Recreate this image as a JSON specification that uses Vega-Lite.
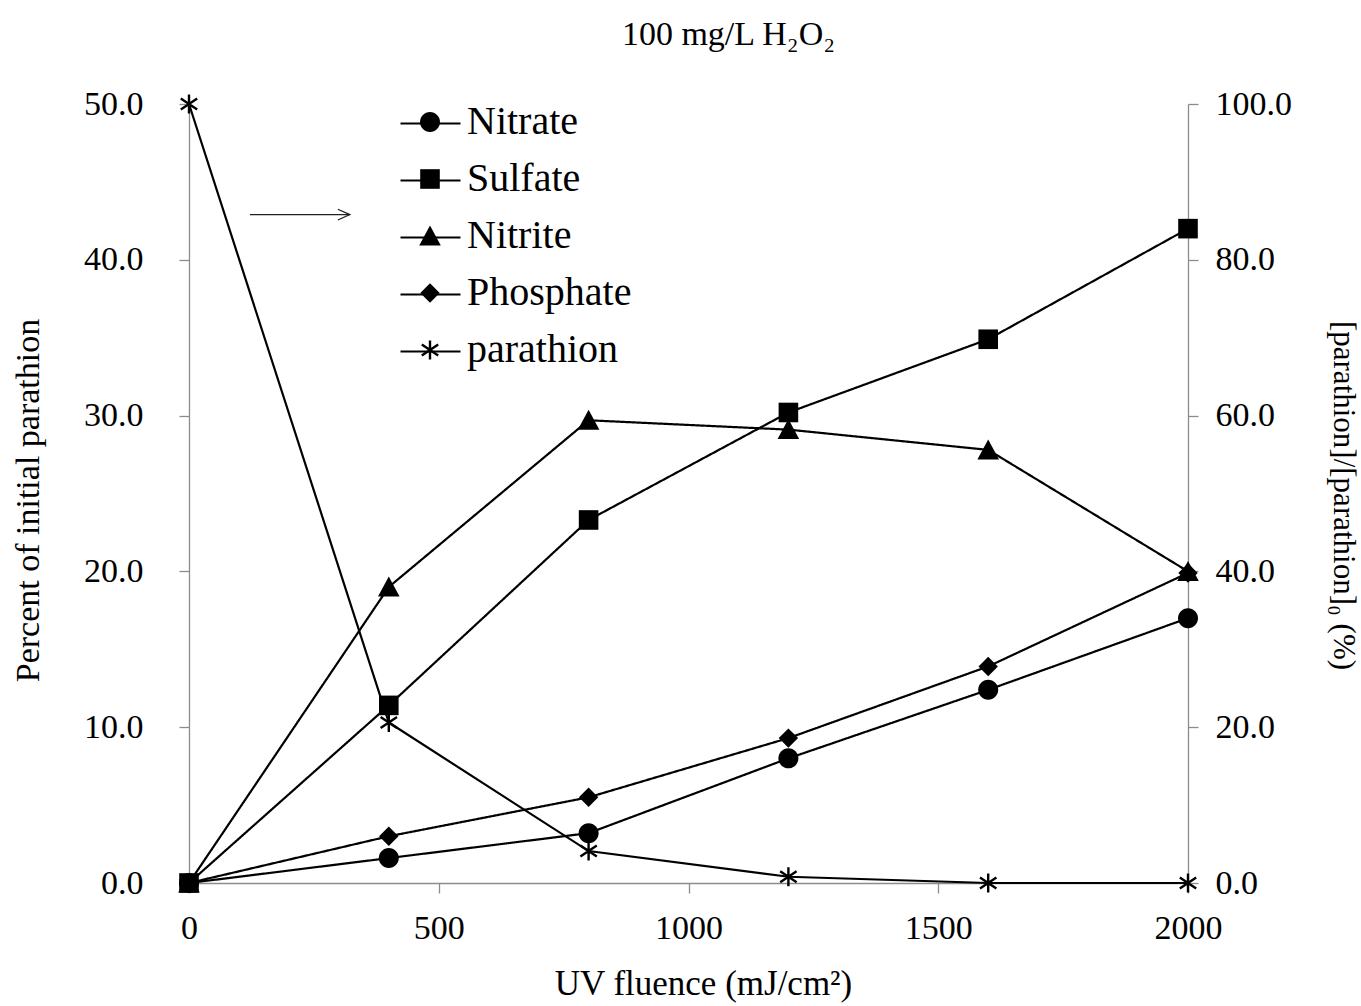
{
  "$schema": "https://vega.github.io/schema/vega-lite/v6.json",
  "width": 999,
  "height": 779,
  "autosize": {"type": "none"},
  "padding": {"left": 189, "top": 104, "right": 173, "bottom": 123},
  "background": "white",
  "config": {
    "font": "Liberation Serif",
    "view": {"stroke": null},
    "axis": {
      "grid": false,
      "domainColor": "#8c8c8c",
      "domainWidth": 1.3,
      "tickColor": "#8c8c8c",
      "tickWidth": 1.3,
      "tickSize": 10,
      "labelColor": "black",
      "titleColor": "black",
      "labelFont": "Liberation Serif",
      "titleFont": "Liberation Serif",
      "titleFontWeight": "normal",
      "labelFlush": false,
      "labelOverlap": false
    },
    "legend": {
      "labelFont": "Liberation Serif",
      "labelColor": "black",
      "labelLimit": 0
    }
  },
  "title": {
    "text": "100 mg/L H₂O₂",
    "font": "Liberation Serif",
    "fontSize": 34,
    "fontWeight": "normal",
    "color": "black",
    "anchor": "middle",
    "offset": 35,
    "dx": 40
  },
  "datasets": {
    "measurements": [
      {"fluence": 0, "series": "Nitrate", "percent": 0},
      {"fluence": 400, "series": "Nitrate", "percent": 1.6},
      {"fluence": 800, "series": "Nitrate", "percent": 3.2},
      {"fluence": 1200, "series": "Nitrate", "percent": 8.0},
      {"fluence": 1600, "series": "Nitrate", "percent": 12.4},
      {"fluence": 2000, "series": "Nitrate", "percent": 17.0},
      {"fluence": 0, "series": "Sulfate", "percent": 0},
      {"fluence": 400, "series": "Sulfate", "percent": 11.4},
      {"fluence": 800, "series": "Sulfate", "percent": 23.3},
      {"fluence": 1200, "series": "Sulfate", "percent": 30.2},
      {"fluence": 1600, "series": "Sulfate", "percent": 34.9},
      {"fluence": 2000, "series": "Sulfate", "percent": 42.0},
      {"fluence": 0, "series": "Nitrite", "percent": 0},
      {"fluence": 400, "series": "Nitrite", "percent": 19.0},
      {"fluence": 800, "series": "Nitrite", "percent": 29.7},
      {"fluence": 1200, "series": "Nitrite", "percent": 29.1},
      {"fluence": 1600, "series": "Nitrite", "percent": 27.8},
      {"fluence": 2000, "series": "Nitrite", "percent": 20.0},
      {"fluence": 0, "series": "Phosphate", "percent": 0},
      {"fluence": 400, "series": "Phosphate", "percent": 3.0},
      {"fluence": 800, "series": "Phosphate", "percent": 5.5},
      {"fluence": 1200, "series": "Phosphate", "percent": 9.3},
      {"fluence": 1600, "series": "Phosphate", "percent": 13.9},
      {"fluence": 2000, "series": "Phosphate", "percent": 19.9},
      {"fluence": 0, "series": "parathion", "percent": 100},
      {"fluence": 400, "series": "parathion", "percent": 20.6},
      {"fluence": 800, "series": "parathion", "percent": 4.1},
      {"fluence": 1200, "series": "parathion", "percent": 0.8},
      {"fluence": 1600, "series": "parathion", "percent": 0},
      {"fluence": 2000, "series": "parathion", "percent": 0}
    ],
    "arrow": [
      {"fluence": 122, "fluence_end": 322, "percent": 42.9}
    ]
  },
  "encoding": {
    "x": {
      "field": "fluence",
      "type": "quantitative",
      "scale": {"domain": [0, 2000], "nice": false, "zero": false},
      "axis": {
        "values": [0, 500, 1000, 1500, 2000],
        "format": "d",
        "labelFontSize": 34,
        "labelPadding": 18,
        "title": "UV fluence (mJ/cm²)",
        "titleFontSize": 35,
        "titleX": 514,
        "titleY": 100,
        "titleAlign": "center",
        "titleBaseline": "middle",
        "encode": {"ticks": {"update": {"y": {"value": -10}}}}
      }
    }
  },
  "layer": [
    {
      "layer": [
        {
          "data": {"name": "measurements"},
          "transform": [{"filter": "datum.series !== 'parathion'"}],
          "mark": {"type": "line", "color": "black", "strokeWidth": 2.2},
          "encoding": {
            "y": {
              "field": "percent",
              "type": "quantitative",
              "scale": {"domain": [0, 50], "nice": false},
              "axis": {
                "orient": "left",
                "values": [0, 10, 20, 30, 40, 50],
                "format": ".1f",
                "labelFontSize": 34,
                "labelPadding": 36,
                "title": "Percent of initial parathion",
                "titleFontSize": 34,
                "titleAngle": 270,
                "titleX": -161,
                "titleY": 396,
                "titleAlign": "center",
                "titleBaseline": "middle",
                "encode": {"ticks": {"update": {"x": {"value": 10}}}}
              }
            },
            "strokeDash": {
              "field": "series",
              "type": "nominal",
              "scale": {
                "domain": ["parathion", "Phosphate", "Nitrite", "Sulfate", "Nitrate"],
                "range": [[1, 0], [1, 0], [1, 0], [1, 0], [1, 0]]
              },
              "legend": {
                "title": null,
                "orient": "none",
                "legendX": 210,
                "legendY": -12,
                "padding": 0,
                "symbolType": "stroke",
                "symbolSize": 3600,
                "symbolStrokeColor": "black",
                "symbolStrokeWidth": 2.2,
                "symbolOffset": 0,
                "labelOffset": 17,
                "labelFontSize": 40,
                "labelOpacity": 0,
                "rowPadding": 5
              }
            }
          }
        },
        {
          "data": {"name": "measurements"},
          "transform": [{"filter": "datum.series !== 'parathion'"}],
          "mark": {"type": "point", "filled": true, "color": "black", "opacity": 1, "size": 400},
          "encoding": {
            "y": {"field": "percent", "type": "quantitative"},
            "shape": {
              "field": "series",
              "type": "nominal",
              "scale": {
                "domain": ["Nitrate", "Sulfate", "Nitrite", "Phosphate", "parathion"],
                "range": [
                  "M1,0A1,1,0,1,1,-1,0A1,1,0,1,1,1,0Z",
                  "M-0.98,-0.98L0.98,-0.98L0.98,0.98L-0.98,0.98Z",
                  "M0,-1.05L1.08,0.95L-1.08,0.95Z",
                  "M0,-0.97L0.97,0L0,0.97L-0.97,0Z",
                  "M-0.12,-0.95L0.12,-0.95L0.12,0.95L-0.12,0.95ZM-0.753,-0.650L0.887,0.450L0.753,0.650L-0.887,-0.450ZM-0.887,0.450L0.753,-0.650L0.887,-0.450L-0.753,0.650Z"
                ]
              },
              "legend": {
                "title": null,
                "orient": "none",
                "legendX": 221,
                "legendY": -2,
                "padding": 0,
                "symbolSize": 400,
                "symbolFillColor": "black",
                "symbolOffset": 0,
                "labelOffset": 17,
                "labelFontSize": 40,
                "labelLimit": 0,
                "rowPadding": 17
              }
            }
          }
        },
        {
          "data": {"name": "arrow"},
          "mark": {"type": "rule", "color": "#222222", "strokeWidth": 1.3},
          "encoding": {
            "x2": {"field": "fluence_end"},
            "y": {"field": "percent", "type": "quantitative"}
          }
        },
        {
          "data": {"name": "arrow"},
          "mark": {
            "type": "point",
            "shape": "M-2,-0.9L0,0L-2,0.9",
            "filled": false,
            "color": "#222222",
            "strokeWidth": 1.3,
            "size": 144,
            "opacity": 1
          },
          "encoding": {
            "x": {"field": "fluence_end", "type": "quantitative"},
            "y": {"field": "percent", "type": "quantitative"}
          }
        }
      ]
    },
    {
      "layer": [
        {
          "data": {"name": "measurements"},
          "transform": [{"filter": "datum.series === 'parathion'"}],
          "mark": {"type": "line", "color": "black", "strokeWidth": 2.2},
          "encoding": {
            "y": {
              "field": "percent",
              "type": "quantitative",
              "scale": {"domain": [0, 100], "nice": false},
              "axis": {
                "orient": "right",
                "values": [0, 20, 40, 60, 80, 100],
                "format": ".1f",
                "labelFontSize": 34,
                "labelPadding": 17,
                "title": "[parathion]/[parathion]₀ (%)",
                "titleFontSize": 31,
                "titleAngle": 90,
                "titleX": 154,
                "titleY": 391,
                "titleAlign": "center",
                "titleBaseline": "middle",
                "encode": {"ticks": {"update": {"x": {"value": -10}}}}
              }
            }
          }
        },
        {
          "data": {"name": "measurements"},
          "transform": [{"filter": "datum.series === 'parathion'"}],
          "mark": {"type": "point", "filled": true, "color": "black", "opacity": 1, "size": 400},
          "encoding": {
            "y": {"field": "percent", "type": "quantitative"},
            "shape": {"field": "series", "type": "nominal", "legend": null}
          }
        }
      ]
    }
  ],
  "resolve": {"scale": {"y": "independent"}}
}
